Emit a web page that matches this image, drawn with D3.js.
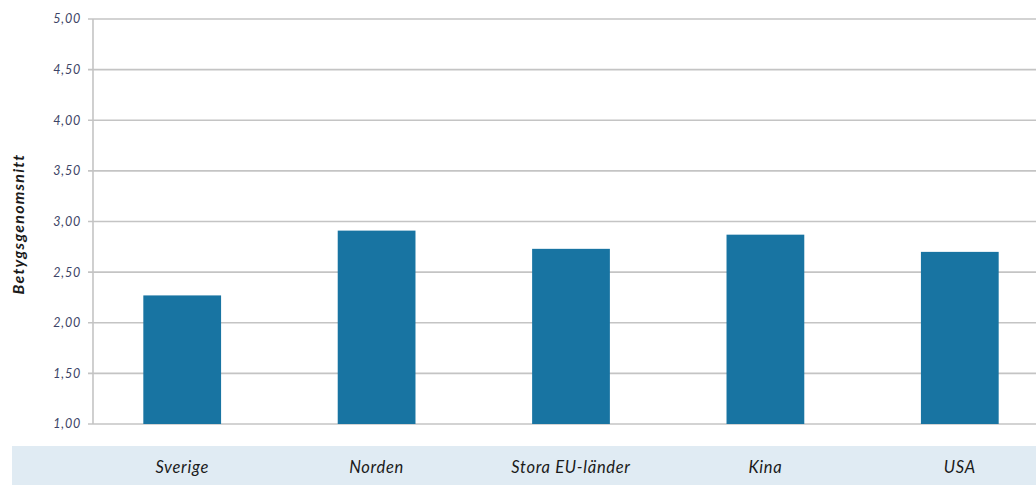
<!DOCTYPE html>
<html>
<head>
<meta charset="utf-8">
<script src="https://cdn.jsdelivr.net/npm/d3@7"></script>
<style>
  body { margin: 0; background: #fff; }
  svg { display: block; font-family: Lato, "Open Sans", sans-serif; }
</style>
</head>
<body>
<div id="chart"></div>
<script>
'use strict';
// data
var categories = ["Sverige", "Norden", "Stora EU-länder", "Kina", "USA"];
var values = [2.27, 2.91, 2.73, 2.87, 2.70];
var yTicks = [1.0, 1.5, 2.0, 2.5, 3.0, 3.5, 4.0, 4.5, 5.0];
var yTitle = "Betygsgenomsnitt";

var width = 1036, height = 485;

var svg = d3.select("#chart").append("svg")
    .attr("width", width)
    .attr("height", height);

var x = d3.scaleBand()
    .domain(categories)
    .range([85, 1057])
    .paddingInner(0.6)
    .paddingOuter(0.3);

var y = d3.scaleLinear()
    .domain([1, 5])
    .range([424, 19]);

var fmt = function (d) { return d3.format(".2f")(d).replace(".", ","); };

// category band background
svg.append("rect")
    .attr("x", 12)
    .attr("y", 446)
    .attr("width", width - 12)
    .attr("height", height - 446)
    .attr("fill", "#e0ebf3");

// gridlines
svg.append("g")
    .selectAll("line")
    .data(yTicks)
    .enter().append("line")
    .attr("x1", 88)
    .attr("x2", width)
    .attr("y1", function (d) { return y(d); })
    .attr("y2", function (d) { return y(d); })
    .attr("stroke", "#c4c4c4")
    .attr("stroke-width", 1.6);

// y axis line
svg.append("line")
    .attr("x1", 93).attr("x2", 93)
    .attr("y1", y(5)).attr("y2", y(1))
    .attr("stroke", "#c4c4c4")
    .attr("stroke-width", 1.6);

// y tick labels
svg.append("g")
    .selectAll("text")
    .data(yTicks)
    .enter().append("text")
    .attr("x", 81)
    .attr("y", function (d) { return y(d); })
    .attr("dy", "0.35em")
    .attr("text-anchor", "end")
    .attr("font-size", 12.5)
    .attr("letter-spacing", 0.8)
    .attr("font-style", "italic")
    .attr("fill", "#3d4466")
    .text(fmt);

// bars
svg.selectAll(".bar")
    .data(values)
    .enter().append("rect")
    .attr("class", "bar")
    .attr("x", function (d, i) { return x(categories[i]); })
    .attr("width", x.bandwidth())
    .attr("y", function (d) { return y(d); })
    .attr("height", function (d) { return y(1) - y(d); })
    .attr("fill", "#1874a2");

// category labels
svg.append("g")
    .selectAll("text")
    .data(categories)
    .enter().append("text")
    .attr("x", function (d) { return x(d) + x.bandwidth() / 2; })
    .attr("y", 467)
    .attr("dy", "0.35em")
    .attr("text-anchor", "middle")
    .attr("font-size", 16.5)
    .attr("letter-spacing", 0.7)
    .attr("font-style", "italic")
    .attr("fill", "#1a1a1a")
    .text(function (d) { return d; });

// y title
svg.append("text")
    .attr("transform", "translate(18,224) rotate(-90)")
    .attr("dy", "0.35em")
    .attr("text-anchor", "middle")
    .attr("font-size", 16)
    .attr("letter-spacing", 1.2)
    .attr("font-style", "italic")
    .attr("font-weight", "bold")
    .attr("fill", "#1a1a1a")
    .text(yTitle);
</script>
</body>
</html>
